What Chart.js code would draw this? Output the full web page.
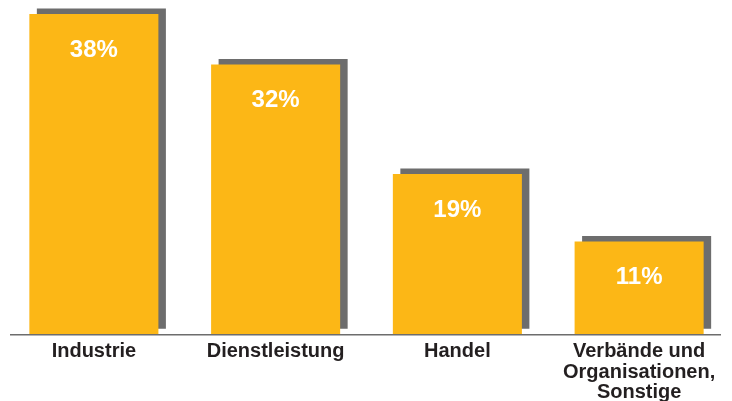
<!DOCTYPE html>
<html>
<head>
<meta charset="utf-8">
<script src="https://cdn.jsdelivr.net/npm/chart.js@4"></script>
<style>
  html, body { margin: 0; padding: 0; background: #fff; }
  #wrap { width: 732px; height: 401px; position: relative; }
</style>
</head>
<body>
<div id="wrap"><canvas id="chart"></canvas></div>
<script>
// Chart data
const categories = ['Industrie', 'Dienstleistung', 'Handel', ['Verbände und', 'Organisationen,', 'Sonstige']];
const shares = [38, 32, 19, 11];
const valueLabels = ['38%', '32%', '19%', '11%'];

const barColor = '#fcb716';
const shadowColor = '#6d6d6d';

// Flat drop shadow behind each bar (offset up and to the right)
const barShadow = {
    id: 'barShadow',
    beforeDatasetsDraw(chart) {
        const ctx = chart.ctx;
        ctx.save();
        ctx.shadowColor = shadowColor;
        ctx.shadowBlur = 0;
        ctx.shadowOffsetX = 7.5;
        ctx.shadowOffsetY = -5.5;
    },
    afterDatasetsDraw(chart) {
        chart.ctx.restore();
    }
};

// Baseline and the percentage labels inside the bars
const labelsAndAxis = {
    id: 'labelsAndAxis',
    afterDatasetsDraw(chart) {
        const ctx = chart.ctx;
        const area = chart.chartArea;
        ctx.save();
        ctx.strokeStyle = '#6d6d6d';
        ctx.lineWidth = 1.5;
        ctx.beginPath();
        ctx.moveTo(10, area.bottom + 0.5);
        ctx.lineTo(721, area.bottom + 0.5);
        ctx.stroke();

        ctx.fillStyle = '#ffffff';
        ctx.font = 'bold 24px "Liberation Sans", Arial, sans-serif';
        ctx.textAlign = 'center';
        ctx.textBaseline = 'middle';
        chart.getDatasetMeta(0).data.forEach((bar, i) => {
            ctx.fillText(valueLabels[i], bar.x, bar.y + 36);
        });
        ctx.restore();
    }
};

new Chart(document.getElementById('chart'), {
    type: 'bar',
    data: {
        labels: categories,
        datasets: [{
            data: shares,
            backgroundColor: barColor,
            borderWidth: 0,
            barPercentage: 0.71,
            categoryPercentage: 1,
            clip: false
        }]
    },
    options: {
        responsive: true,
        maintainAspectRatio: false,
        animation: false,
        devicePixelRatio: 1,
        layout: {
            padding: { top: 14, left: 3, right: 2, bottom: -9 }
        },
        plugins: {
            legend: { display: false },
            tooltip: { enabled: false }
        },
        scales: {
            x: {
                grid: { display: false, drawTicks: false },
                border: { display: false },
                ticks: {
                    color: '#231f20',
                    padding: 7,
                    maxRotation: 0,
                    autoSkip: false,
                    font: { family: '"Liberation Sans", Arial, sans-serif', size: 20, weight: 'bold', lineHeight: 1.03 }
                }
            },
            y: {
                display: false,
                min: 0,
                max: 38
            }
        }
    },
    plugins: [barShadow, labelsAndAxis]
});
</script>
</body>
</html>
